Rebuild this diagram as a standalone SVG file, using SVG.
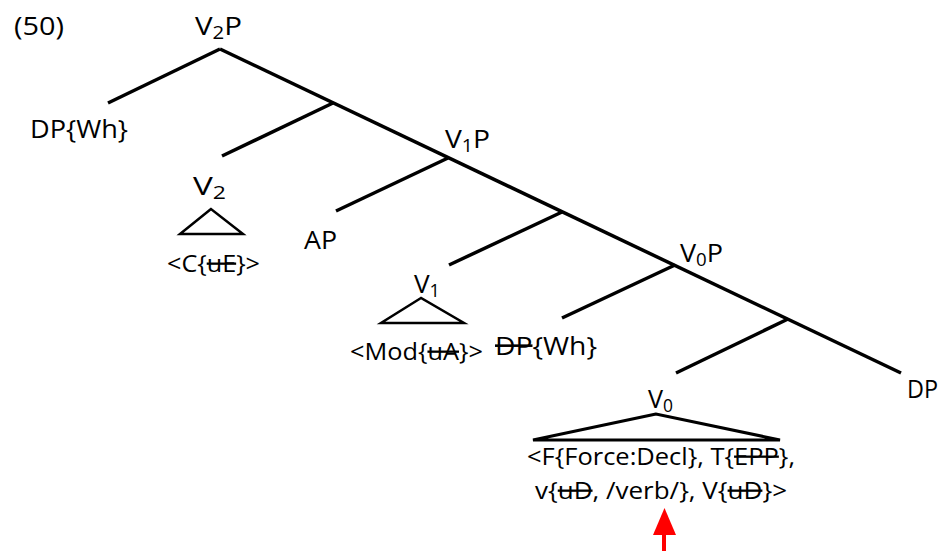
<svg xmlns="http://www.w3.org/2000/svg" width="943" height="551" viewBox="0 0 943 551">
<style>
text{font-family:"Open Sans","Liberation Sans",Arial,sans-serif;fill:#000;font-weight:500}
.l{font-size:26px}
.s{font-size:23px}
.sub{font-size:18px}
.edge{stroke:#000;stroke-width:3.5;stroke-linecap:butt;fill:none}
.tri{stroke:#000;stroke-width:2.5;fill:none;stroke-linejoin:miter}
.del{text-decoration:line-through}
</style>
<rect width="943" height="551" fill="#fff"/>
<g id="connectors">
<line class="edge" x1="220" y1="49" x2="901" y2="373"/>
<line class="edge" x1="220" y1="49" x2="108" y2="103"/>
<line class="edge" x1="333" y1="103" x2="222" y2="156"/>
<line class="edge" x1="448" y1="158" x2="336" y2="211"/>
<line class="edge" x1="562" y1="212" x2="449" y2="265"/>
<line class="edge" x1="675" y1="265" x2="562" y2="318"/>
<line class="edge" x1="788" y1="319" x2="676" y2="373"/>
</g>
<g id="ex-num"><text class="l" x="14" y="35" textLength="50" lengthAdjust="spacingAndGlyphs">(50)</text></g>
<g id="V2P"><text class="l" x="195" y="35" textLength="47" lengthAdjust="spacingAndGlyphs">V<tspan class="sub" dy="4">2</tspan><tspan dy="-4">P</tspan></text></g>
<g id="DPWh-top"><text class="l" x="30" y="138" textLength="98" lengthAdjust="spacingAndGlyphs">DP{Wh}</text></g>
<g id="V2">
<text class="l" x="193" y="195" textLength="33" lengthAdjust="spacingAndGlyphs">V<tspan class="sub" dy="4">2</tspan></text>
<polygon class="tri" points="211,209 180,234 243,234"/>
<text class="s" x="167" y="272" textLength="93" lengthAdjust="spacingAndGlyphs">&lt;C{<tspan class="del">uE</tspan>}&gt;</text>
</g>
<g id="AP"><text class="l" x="304" y="249" textLength="33" lengthAdjust="spacingAndGlyphs">AP</text></g>
<g id="V1P"><text class="l" x="445" y="148" textLength="45" lengthAdjust="spacingAndGlyphs">V<tspan class="sub" dy="4">1</tspan><tspan dy="-4">P</tspan></text></g>
<g id="V1">
<text class="l" x="414" y="293" textLength="26" lengthAdjust="spacingAndGlyphs">V<tspan class="sub" dy="4">1</tspan></text>
<polygon class="tri" points="421,298 381,323 464,323"/>
<text class="s" x="350" y="360" textLength="133" lengthAdjust="spacingAndGlyphs">&lt;Mod{<tspan class="del">uA</tspan>}&gt;</text>
</g>
<g id="DPWh-low"><text class="l" x="495" y="355" textLength="102" lengthAdjust="spacingAndGlyphs"><tspan class="del">DP</tspan>{Wh}</text></g>
<g id="V0P"><text class="l" x="680" y="262" textLength="43" lengthAdjust="spacingAndGlyphs">V<tspan class="sub" dy="4">0</tspan><tspan dy="-4">P</tspan></text></g>
<g id="DP-right"><text class="l" x="907" y="398" textLength="31" lengthAdjust="spacingAndGlyphs">DP</text></g>
<g id="V0">
<text class="l" x="648" y="408" textLength="25" lengthAdjust="spacingAndGlyphs">V<tspan class="sub" dy="4">0</tspan></text>
<polygon class="tri" points="656,414 533,440 780,440" style="stroke-width:3"/>
<text class="s" x="527" y="465" textLength="268" lengthAdjust="spacingAndGlyphs">&lt;F{Force:Decl}, T{<tspan class="del">EPP</tspan>},</text>
<text class="s" x="535" y="499" textLength="252" lengthAdjust="spacingAndGlyphs">v{<tspan class="del">uD</tspan>, /verb/}, V{<tspan class="del">uD</tspan>}&gt;</text>
</g>
<g id="red-arrow">
<line x1="664" y1="533" x2="664" y2="551" stroke="#f00" stroke-width="4"/>
<polygon points="653,535 676,535 664.5,508" fill="#f00"/>
</g>
</svg>
